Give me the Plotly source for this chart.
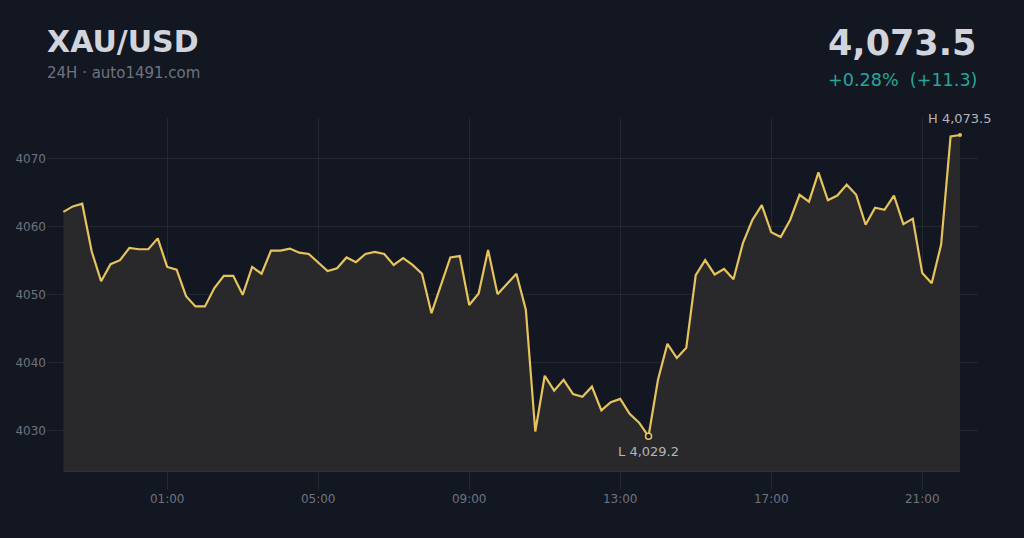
import plotly.graph_objects as go
import pandas as pd

# ---- data ----
start_time = "2024-01-01 22:15"
interval = "15min"
prices = [
    4062.2, 4063.0, 4063.4, 4056.4, 4052.0, 4054.5, 4055.1, 4056.9, 4056.7, 4056.7,
    4058.3, 4054.1, 4053.7, 4049.8, 4048.3, 4048.3, 4051.0, 4052.8, 4052.8, 4050.0,
    4054.1, 4053.1, 4056.5, 4056.5, 4056.8, 4056.2, 4056.0, 4054.8, 4053.5, 4053.9,
    4055.5, 4054.8, 4056.0, 4056.3, 4056.0, 4054.4, 4055.4, 4054.4, 4053.1, 4047.3,
    4051.4, 4055.5, 4055.7, 4048.5, 4050.2, 4056.6, 4050.1, 4051.6, 4053.1, 4047.8,
    4029.9, 4038.1, 4035.9, 4037.5, 4035.4, 4035.0, 4036.5, 4033.0, 4034.2, 4034.7,
    4032.5, 4031.2, 4029.2, 4037.5, 4042.8, 4040.7, 4042.2, 4052.9, 4055.1, 4053.0,
    4053.8, 4052.3, 4057.6, 4061.0, 4063.2, 4059.2, 4058.5, 4061.0, 4064.7, 4063.7,
    4068.0, 4063.9, 4064.6, 4066.2, 4064.7, 4060.3, 4062.8, 4062.5, 4064.6, 4060.4,
    4061.2, 4053.2, 4051.7, 4057.4, 4073.3, 4073.5,
]
baseline_value = 4024.0
y_ticks = [4030, 4040, 4050, 4060, 4070]
x_tick_labels = ["01:00", "05:00", "09:00", "13:00", "17:00", "21:00"]
symbol = "XAU/USD"
subtitle = "24H · auto1491.com"

times = pd.date_range(start_time, periods=len(prices), freq=interval)
first, last = prices[0], prices[-1]
change = last - first
pct = change / first * 100
lo = min(prices); lo_i = prices.index(lo)
hi = max(prices); hi_i = prices.index(hi)

x_tick_vals = [pd.Timestamp("2024-01-02 " + t) for t in x_tick_labels]

BG = "#131722"
LINE = "#e6c35c"
FILL = "#29292b"
GRID = "rgba(255,255,255,0.07)"
TICK = "#6f737e"

fig = go.Figure()
fig.add_trace(go.Scatter(x=times, y=[baseline_value] * len(prices), mode="lines",
                         line=dict(color="rgba(255,255,255,0.08)", width=1),
                         hoverinfo="skip", showlegend=False))
fig.add_trace(go.Scatter(x=times, y=prices, mode="lines", fill="tonexty",
                         fillcolor=FILL, line=dict(color=LINE, width=2.2),
                         showlegend=False))
fig.add_trace(go.Scatter(x=[times[lo_i]], y=[lo], mode="markers",
                         marker=dict(size=6, color=BG, line=dict(color=LINE, width=1.5)),
                         showlegend=False, hoverinfo="skip"))
fig.add_trace(go.Scatter(x=[times[hi_i]], y=[hi], mode="markers",
                         marker=dict(size=4, color=LINE),
                         showlegend=False, hoverinfo="skip"))

pad_l = pd.Timedelta(minutes=26)
pad_r = pd.Timedelta(minutes=28.6)

fig.update_layout(
    width=1024, height=538,
    margin=dict(l=47, r=46, t=118, b=48),
    paper_bgcolor=BG, plot_bgcolor=BG,
    font=dict(family="DejaVu Sans", color=TICK, size=12),
    xaxis=dict(range=[times[0] - pad_l, times[-1] + pad_r], tickvals=x_tick_vals,
               ticktext=x_tick_labels, showgrid=True, gridcolor=GRID, gridwidth=1,
               zeroline=False, showline=False, ticks="",
               tickfont=dict(size=12, color=TICK)),
    yaxis=dict(range=[4021.3, 4076.0], tickvals=y_ticks, showgrid=True,
               gridcolor=GRID, gridwidth=1, zeroline=False, showline=False,
               ticks="", tickfont=dict(size=12, color=TICK)),
)

def px(x):
    return (x - 47) / 931

def py(y):
    return (490 - y) / 372

sign = "+" if change >= 0 else ""
anns = [
    dict(text=f"<b>{symbol}</b>", x=px(45), y=py(42), xanchor="left", yanchor="middle",
         font=dict(size=30, color="#d1d4dc")),
    dict(text=subtitle, x=px(45), y=py(73), xanchor="left", yanchor="middle",
         font=dict(size=15, color="#6f737e")),
    dict(text=f"<b>{last:,.1f}</b>", x=px(978), y=py(43), xanchor="right", yanchor="middle",
         font=dict(size=35, color="#d1d4dc")),
    dict(text=f"{sign}{pct:.2f}%\u00a0\u00a0({sign}{change:.1f})",
         x=px(979), y=py(80), xanchor="right", yanchor="middle",
         font=dict(size=17.6, color="#26a69a")),
]
for a in anns:
    a.update(xref="paper", yref="paper", showarrow=False)
    fig.add_annotation(**a)

fig.add_annotation(x=times[lo_i], y=lo, text=f"L {lo:,.1f}", showarrow=False,
                   yshift=-15, font=dict(size=13, color="#b2b5be"))
fig.add_annotation(x=times[hi_i], y=hi, text=f"H {hi:,.1f}", showarrow=False,
                   yshift=17, font=dict(size=13, color="#b2b5be"))

fig.write_html("out.html", config={"displayModeBar": False},
               post_script="document.body.style.margin='0';document.body.style.background='#131722';")
